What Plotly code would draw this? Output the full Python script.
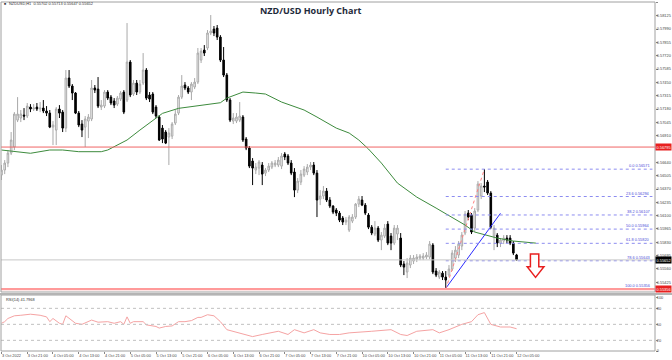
import plotly.graph_objects as go

# ---------------- data ----------------
bar_index = list(range(161))
open_ = [0.56511,0.56562,0.56633,0.56734,0.56795,0.57068,0.57089,0.57119,0.57109,0.57200,
0.57180,0.57200,0.57180,0.57190,0.57160,0.57139,0.56997,0.56967,0.57180,0.57149,
0.56987,0.57494,0.57413,0.57342,0.57139,0.57028,0.56997,0.57058,0.57079,0.57393,
0.57382,0.57200,0.57210,0.57352,0.57301,0.57261,0.57230,0.57281,0.57352,0.57271,
0.57656,0.57332,0.57443,0.57352,0.57443,0.57575,0.57322,0.57332,0.57200,0.57099,
0.56987,0.56947,0.56896,0.56906,0.57038,0.57139,0.57301,0.57423,0.57393,0.57352,
0.57403,0.57453,0.57676,0.57777,0.57798,0.57950,0.57990,0.58000,0.57909,0.57676,
0.57524,0.57271,0.57058,0.57058,0.57068,0.57099,0.56876,0.56785,0.56653,0.56562,
0.56582,0.56613,0.56531,0.56562,0.56592,0.56613,0.56613,0.56602,0.56724,0.56704,
0.56633,0.56542,0.56359,0.56440,0.56511,0.56542,0.56592,0.56613,0.56531,0.56268,
0.56299,0.56349,0.56258,0.56197,0.56157,0.56126,0.56076,0.56035,0.55954,0.56045,
0.56086,0.56217,0.56258,0.56207,0.56106,0.55984,0.55914,0.55974,0.55853,0.55893,
0.56015,0.55893,0.55822,0.55914,0.55873,0.55610,0.55529,0.55600,0.55640,0.55660,
0.55670,0.55670,0.55681,0.55681,0.55802,0.55539,0.55478,0.55518,0.55478,0.55498,
0.55559,0.55670,0.55701,0.55792,0.55924,0.56126,0.56106,0.55974,0.56157,0.56299,
0.56400,0.56440,0.56329,0.55893,0.55903,0.55822,0.55843,0.55873,0.55873,0.55822,
0.55702]
high = [0.56613,0.56663,0.56764,0.56947,0.57149,0.57301,0.57170,0.57190,0.57241,0.57230,
0.57230,0.57241,0.57251,0.57271,0.57210,0.57170,0.57058,0.57200,0.57220,0.57170,
0.57575,0.57575,0.57433,0.57352,0.57160,0.57068,0.57109,0.57129,0.57474,0.57423,
0.57504,0.57271,0.57372,0.57372,0.57322,0.57291,0.57312,0.57362,0.57372,0.58051,
0.57676,0.57474,0.57474,0.57474,0.57747,0.57595,0.57352,0.57352,0.57220,0.57119,
0.57018,0.56967,0.56987,0.57048,0.57170,0.57322,0.57524,0.57453,0.57413,0.57453,
0.57494,0.57798,0.57798,0.57828,0.57980,0.58132,0.58021,0.58031,0.57929,0.57808,
0.57545,0.57291,0.57139,0.57139,0.57251,0.57119,0.56896,0.56805,0.56683,0.56633,
0.56663,0.56643,0.56582,0.56633,0.56653,0.56663,0.56694,0.56734,0.56744,0.56724,
0.56663,0.56582,0.56481,0.56562,0.56602,0.56623,0.56643,0.56643,0.56562,0.56359,
0.56400,0.56380,0.56288,0.56207,0.56177,0.56147,0.56096,0.56086,0.56106,0.56116,
0.56228,0.56299,0.56299,0.56228,0.56126,0.56005,0.56045,0.55995,0.55934,0.56015,
0.56045,0.55924,0.56005,0.56005,0.55924,0.55640,0.55670,0.55701,0.55701,0.55711,
0.55711,0.55721,0.55731,0.55843,0.55822,0.55569,0.55549,0.55539,0.55539,0.55600,
0.55751,0.55792,0.55843,0.55934,0.56147,0.56157,0.56126,0.56177,0.56450,0.56430,
0.56571,0.56461,0.56349,0.56005,0.55924,0.55873,0.55903,0.55903,0.55903,0.55843,
0.55713]
low = [0.56461,0.56521,0.56592,0.56714,0.56764,0.57048,0.57048,0.57068,0.57089,0.57149,
0.57160,0.57160,0.57149,0.57139,0.57109,0.56987,0.56815,0.56815,0.57089,0.56947,
0.56947,0.57393,0.57271,0.57129,0.56997,0.56896,0.56795,0.56886,0.57058,0.57342,
0.57190,0.57170,0.57190,0.57271,0.57220,0.57190,0.57210,0.57261,0.57129,0.57251,
0.57301,0.57312,0.57322,0.57332,0.57423,0.57271,0.57251,0.57129,0.57089,0.56856,
0.56835,0.56825,0.56613,0.56876,0.57018,0.57119,0.57281,0.57372,0.57332,0.57271,
0.57382,0.57433,0.57646,0.57717,0.57777,0.57929,0.57919,0.57879,0.57656,0.57504,
0.57251,0.57048,0.57028,0.57038,0.57048,0.56846,0.56764,0.56582,0.56410,0.56521,
0.56511,0.56410,0.56501,0.56542,0.56572,0.56592,0.56592,0.56572,0.56663,0.56613,
0.56511,0.56288,0.56329,0.56410,0.56491,0.56511,0.56562,0.56511,0.56086,0.56207,
0.56268,0.56238,0.56177,0.56116,0.56096,0.56035,0.56005,0.56005,0.55934,0.56025,
0.56066,0.56187,0.56197,0.56106,0.55964,0.55903,0.55893,0.55833,0.55751,0.55873,
0.55802,0.55751,0.55802,0.55853,0.55579,0.55498,0.55468,0.55569,0.55610,0.55630,
0.55650,0.55650,0.55660,0.55660,0.55508,0.55478,0.55458,0.55448,0.55356,0.55478,
0.55539,0.55630,0.55670,0.55751,0.55903,0.56055,0.55914,0.55934,0.56136,0.56268,
0.56339,0.56309,0.55964,0.55751,0.55782,0.55782,0.55812,0.55822,0.55802,0.55701,
0.55647]
close = [0.56562,0.56633,0.56734,0.56866,0.57129,0.57129,0.57129,0.57109,0.57210,0.57180,
0.57190,0.57180,0.57190,0.57160,0.57139,0.56997,0.57018,0.57180,0.57139,0.56987,
0.57494,0.57413,0.57342,0.57139,0.57018,0.56967,0.57079,0.57099,0.57393,0.57372,
0.57210,0.57220,0.57352,0.57291,0.57241,0.57220,0.57291,0.57342,0.57149,0.57656,
0.57322,0.57443,0.57352,0.57433,0.57575,0.57291,0.57281,0.57149,0.57109,0.56866,
0.56876,0.56835,0.56937,0.57028,0.57129,0.57301,0.57413,0.57393,0.57352,0.57433,
0.57453,0.57747,0.57767,0.57747,0.57950,0.57970,0.57950,0.57909,0.57676,0.57524,
0.57271,0.57068,0.57089,0.57099,0.57109,0.56866,0.56785,0.56602,0.56582,0.56592,
0.56643,0.56521,0.56562,0.56602,0.56633,0.56633,0.56663,0.56704,0.56694,0.56633,
0.56531,0.56359,0.56450,0.56521,0.56572,0.56592,0.56613,0.56531,0.56258,0.56299,
0.56349,0.56258,0.56197,0.56136,0.56126,0.56055,0.56035,0.56055,0.56086,0.56086,
0.56217,0.56268,0.56207,0.56126,0.55984,0.55924,0.55974,0.55853,0.55903,0.55974,
0.55822,0.55822,0.55974,0.55974,0.55600,0.55579,0.55620,0.55670,0.55670,0.55681,
0.55691,0.55691,0.55701,0.55812,0.55529,0.55498,0.55529,0.55478,0.55448,0.55559,
0.55721,0.55751,0.55812,0.55903,0.56116,0.56086,0.55934,0.56147,0.56420,0.56400,
0.56390,0.56329,0.55984,0.55974,0.55822,0.55853,0.55873,0.55853,0.55822,0.55721,
0.55652]

ma_index = [0,5,9,15,19,24,31,33,35,39,43,47,50,55,59,64,68,70,73,75,79,82,87,94,98,
            104,108,111,114,118,123,129,135,140,144,147,151,154,159,166]
ma_value = [0.56765,0.56748,0.56732,0.56765,0.56765,0.56748,0.56748,0.56765,0.56798,0.56866,
            0.56967,0.57068,0.57136,0.57187,0.57204,0.57221,0.57244,0.57291,0.57332,0.57352,
            0.57342,0.57332,0.57251,0.57170,0.57099,0.56987,0.56937,0.56866,0.56775,0.56633,
            0.56430,0.56288,0.56177,0.56086,0.56005,0.55934,0.55903,0.55873,0.55843,0.55822]

rsi_index = [0,1,2,3,4,6,9,12,14,15,16,18,19,20,21,23,25,26,28,30,33,35,37,38,39,40,41,44,45,
             48,49,51,53,55,57,59,61,62,64,66,68,70,74,78,81,86,89,91,94,97,99,102,105,108,
             115,121,124,126,129,134,136,139,143,146,148,150,152,155,158,160]
rsi_value = [52,55,61,64,66,67,69,67,64,55,61,52,50,66,61,52,50,53,58,54,55,52,55,50,64,52,55,55,49,
             46,43,46,47,55,55,57,63,63,68,66,55,40,34,27,31,37,31,40,34,40,34,31,31,34,
             37,40,31,29,37,40,34,40,50,55,68,72,50,45,45,41.8]
rsi_last = "41.7968"

price_ticks = [0.58260,0.58125,0.57990,0.57855,0.57720,0.57585,0.57450,0.57315,0.57180,0.57045,
               0.56910,0.56640,0.56505,0.56370,0.56235,0.56100,0.55965,0.55830,0.55695,0.55560,
               0.55425]
extra_price_tick = 0.55290
time_labels = ["3 Oct 2022","3 Oct 21:00","4 Oct 05:00","4 Oct 13:00","4 Oct 21:00","5 Oct 05:00",
               "5 Oct 13:00","5 Oct 21:00","6 Oct 05:00","6 Oct 13:00","6 Oct 21:00","7 Oct 05:00",
               "7 Oct 13:00","7 Oct 21:00","10 Oct 05:00","10 Oct 13:00","10 Oct 21:00","11 Oct 05:00",
               "11 Oct 13:00","11 Oct 21:00","12 Oct 05:00"]
time_label_index = [0,8,16,24,32,40,48,56,64,72,80,88,96,104,112,120,128,136,144,152,160]

fib_ratio = ["0.0","23.6","38.2","50.0","61.8","78.6","100.0"]
fib_price = [0.56571,0.56294,0.56107,0.55964,0.55820,0.55643,0.55356]
fib_low_index, fib_high_index = 138, 150
trend_index = [138, 155]
trend_price = [0.55364, 0.56124]
red_levels = [0.56795, 0.55356]
current_price = 0.55652
header = "NZDUSD,H1  0.55702 0.55713 0.55647 0.55652"

# ---------------- figure ----------------
FONT = "Liberation Sans"
SMALL = 3.9
XR = [-0.15, 203.0]
fig = go.Figure()

fig.add_trace(go.Candlestick(
    x=bar_index, open=open_, high=high, low=low, close=close,
    xaxis="x", yaxis="y", whiskerwidth=0, hoverinfo="skip", showlegend=False,
    increasing=dict(line=dict(color="#a9a9a9", width=1), fillcolor="#f7f7f7"),
    decreasing=dict(line=dict(color="#000000", width=1), fillcolor="#000000")))

fig.add_trace(go.Scatter(x=ma_index, y=ma_value, mode="lines", xaxis="x", yaxis="y",
                         line=dict(color="#3d8b3d", width=1), hoverinfo="skip", showlegend=False))

fig.add_trace(go.Scatter(x=trend_index, y=trend_price, mode="lines", xaxis="x", yaxis="y",
                         line=dict(color="#2a2aff", width=1), hoverinfo="skip", showlegend=False))

fig.add_trace(go.Scatter(x=[fib_low_index, fib_high_index], y=[fib_price[-1], fib_price[0]],
                         mode="lines", xaxis="x", yaxis="y",
                         line=dict(color="#ff8080", width=1, dash="dot"), hoverinfo="skip",
                         showlegend=False))

fig.add_trace(go.Scatter(x=rsi_index, y=rsi_value, mode="lines", xaxis="x2", yaxis="y2",
                         line=dict(color="#f5a3a3", width=1), hoverinfo="skip", showlegend=False))

shapes = []
annotations = []

# fib levels
for r, p in zip(fib_ratio, fib_price):
    shapes.append(dict(type="line", xref="x", yref="y", x0=fib_low_index, x1=202.2, y0=p, y1=p,
                       line=dict(color="#8c8cf0", width=1, dash="dot")))
    annotations.append(dict(xref="x", yref="y", x=202.2, y=p, xanchor="right", yanchor="bottom",
                            text=f"{r} {p:.5f}", showarrow=False, yshift=-1,
                            font=dict(family=FONT, size=SMALL, color="#4b4bd8")))

# current price line
shapes.append(dict(type="line", xref="x", yref="y", x0=XR[0], x1=XR[1], y0=current_price,
                   y1=current_price, line=dict(color="#c8c8c8", width=1)))
# red levels
shapes.append(dict(type="line", xref="x", yref="y", x0=XR[0], x1=XR[1], y0=red_levels[0],
                   y1=red_levels[0], line=dict(color="#f06464", width=1)))
shapes.append(dict(type="line", xref="x", yref="y", x0=XR[0], x1=XR[1], y0=red_levels[1],
                   y1=red_levels[1], line=dict(color="#ff9a9a", width=2.2)))

# RSI dotted levels
for lv in [80, 50, 20]:
    shapes.append(dict(type="line", xref="x2", yref="y2", x0=XR[0], x1=XR[1], y0=lv, y1=lv,
                       line=dict(color="#c0c0c0", width=1, dash="dot")))

# panel frames
shapes.append(dict(type="rect", xref="paper", yref="y domain", x0=0, x1=1, y0=0, y1=1,
                   line=dict(color="#a0a0a0", width=1)))
shapes.append(dict(type="rect", xref="paper", yref="y2 domain", x0=0, x1=1, y0=0, y1=1,
                   line=dict(color="#a0a0a0", width=1)))
shapes.append(dict(type="line", xref="paper", yref="paper", x0=-0.01, x1=1.03, y0=0.163, y1=0.163,
                   line=dict(color="#b4b4b4", width=2)))

# red down arrow (outline) to the right of the last bar
ax, ay = bar_index[-1] + 5.9, close[-1]
path = (f"M {ax-1.6},{ay+0.00059} L {ax+1.0},{ay+0.00059} L {ax+1.0},{ay-0.00070} "
        f"L {ax+2.6},{ay-0.00070} L {ax},{ay-0.00177} L {ax-2.6},{ay-0.00070} "
        f"L {ax-1.6},{ay-0.00070} Z")
shapes.append(dict(type="path", xref="x", yref="y", path=path, fillcolor="white",
                   line=dict(color="#e82020", width=1.5)))

# price-axis boxes
def axis_box(y, txt, bg):
    annotations.append(dict(xref="paper", yref="y", x=1.0, y=y, xanchor="left", yanchor="middle",
                            text=txt, showarrow=False, bgcolor=bg, borderpad=0.5, xshift=0,
                            font=dict(family=FONT, size=SMALL, color="white")))

axis_box(red_levels[0], f"{red_levels[0]:.5f}", "#e82020")
axis_box(red_levels[1], f"{red_levels[1]:.5f}", "#e82020")
axis_box(current_price, f"{current_price:.5f}", "#000000")
annotations.append(dict(xref="paper", yref="y", x=1.0, y=extra_price_tick, xanchor="left",
                        yanchor="middle", text=f"{extra_price_tick:.5f}", showarrow=False, xshift=1,
                        font=dict(family=FONT, size=SMALL, color="#444")))

# texts
annotations.append(dict(xref="paper", yref="paper", x=0.0095, y=0.992, xanchor="left",
                        yanchor="middle", text=header, showarrow=False,
                        font=dict(family=FONT, size=SMALL, color="#333")))
annotations.append(dict(xref="paper", yref="paper", x=0.0015, y=0.992, xanchor="left",
                        yanchor="middle", text="■", showarrow=False,
                        font=dict(family=FONT, size=3.5, color="#333")))
annotations.append(dict(xref="paper", yref="paper", x=0.474, y=0.974, xanchor="center",
                        yanchor="middle", text="<b>NZD/USD Hourly Chart</b>", showarrow=False,
                        font=dict(family="Open Sans", size=9, color="#1e2a3a")))
annotations.append(dict(xref="paper", yref="paper", x=0.004, y=0.146, xanchor="left",
                        yanchor="middle", text=f"RSI(14) {rsi_last}", showarrow=False,
                        font=dict(family=FONT, size=SMALL, color="#333")))

fig.update_layout(
    width=672, height=360, margin=dict(l=1, r=17, t=1, b=9),
    paper_bgcolor="white", plot_bgcolor="white", showlegend=False,
    shapes=shapes, annotations=annotations,
    xaxis=dict(domain=[0, 1], range=XR, anchor="y", showticklabels=False, showgrid=False,
               zeroline=False, rangeslider=dict(visible=False), fixedrange=True),
    yaxis=dict(domain=[0.1686, 0.9971], range=[0.55327, 0.58264], side="right", anchor="x",
               tickvals=price_ticks, ticktext=[f"{v:.5f}" for v in price_ticks],
               tickfont=dict(family=FONT, size=SMALL, color="#444"), ticks="outside", ticklen=2,
               tickcolor="#888", ticklabelstandoff=-2, showgrid=False, zeroline=False,
               showline=False),
    xaxis2=dict(domain=[0, 1], range=XR, anchor="y2", showgrid=False, zeroline=False,
                tickvals=time_label_index, ticktext=time_labels, ticks="outside", ticklen=2,
                tickcolor="#888", ticklabelposition="outside right", tickangle=0,
                tickfont=dict(family=FONT, size=SMALL, color="#444")),
    yaxis2=dict(domain=[0, 0.16], range=[0, 105], side="right", anchor="x2",
                tickvals=[0, 20, 50, 80, 100], ticks="outside", ticklen=2, tickcolor="#888",
                ticklabelstandoff=-2,
                tickfont=dict(family=FONT, size=SMALL, color="#444"), showgrid=False,
                zeroline=False),
)

fig.write_html("out.html", config={"displayModeBar": False, "staticPlot": True},
               post_script="document.body.style.margin='0px';document.body.style.padding='0px';")
